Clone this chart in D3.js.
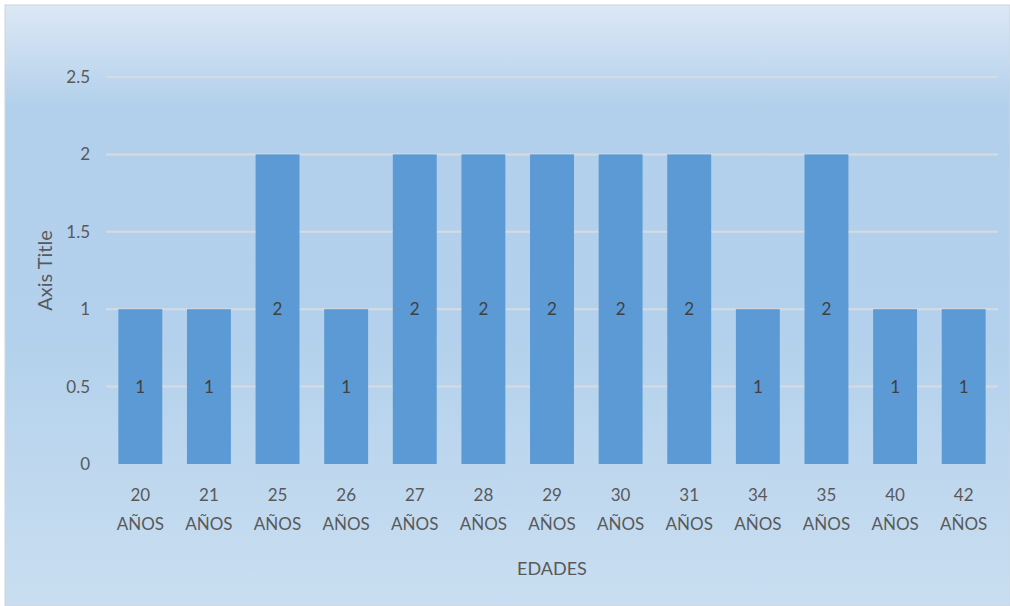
<!DOCTYPE html>
<html>
<head>
<meta charset="utf-8">
<script src="https://cdn.jsdelivr.net/npm/d3@7"></script>
<style>
  body { margin: 0; background: #fff; }
  text { font-family: Lato, "Noto Sans", sans-serif; }
</style>
</head>
<body>
<div id="chart"></div>
<script>
// data
var edades = ['20', '21', '25', '26', '27', '28', '29', '30', '31', '34', '35', '40', '42'];
var cantidades = [1, 1, 2, 1, 2, 2, 2, 2, 2, 1, 2, 1, 1];
var yTicks = [0, 0.5, 1, 1.5, 2, 2.5];

var width = 1010, height = 606;
var plotLeft = 106, plotRight = 998, plotTop = 77, plotBottom = 464;

var svg = d3.select('#chart').append('svg')
  .attr('width', width)
  .attr('height', height);

var defs = svg.append('defs');
var grad = defs.append('linearGradient')
  .attr('id', 'bg').attr('x1', 0).attr('y1', 0).attr('x2', 0).attr('y2', 1);
grad.append('stop').attr('offset', '0%').attr('stop-color', '#dce8f5');
grad.append('stop').attr('offset', '17%').attr('stop-color', '#b2d0eb');
grad.append('stop').attr('offset', '55%').attr('stop-color', '#b3d1ec');
grad.append('stop').attr('offset', '100%').attr('stop-color', '#c9def1');

svg.append('rect')
  .attr('x', 5).attr('y', 5)
  .attr('width', width - 5).attr('height', height - 5)
  .attr('fill', 'url(#bg)')
  .attr('stroke', '#d0d4d8').attr('stroke-width', 1);

var x = d3.scaleBand()
  .domain(edades)
  .range([plotLeft, plotRight])
  .paddingInner(0.36)
  .paddingOuter(0.18);

var y = d3.scaleLinear()
  .domain([0, 2.5])
  .range([plotBottom, plotTop]);

// gridlines
svg.append('g').selectAll('line')
  .data(yTicks.filter(function(d){ return d > 0; }))
  .enter().append('line')
  .attr('x1', plotLeft).attr('x2', plotRight)
  .attr('y1', function(d){ return y(d); })
  .attr('y2', function(d){ return y(d); })
  .attr('stroke', '#d6dbe0').attr('stroke-width', 2);

// y axis labels
var yAxis = svg.append('g')
  .attr('transform', 'translate(' + (plotLeft - 13) + ',0)')
  .call(d3.axisLeft(y).tickValues(yTicks).tickSize(0).tickFormat(function(d){ return d; }));
yAxis.select('.domain').remove();
yAxis.selectAll('text')
  .attr('fill', '#595959')
  .attr('font-size', 17)
  .attr('font-family', 'Lato, "Noto Sans", sans-serif');

// bars
svg.append('g').selectAll('rect')
  .data(cantidades)
  .enter().append('rect')
  .attr('x', function(d, i){ return x(edades[i]); })
  .attr('y', function(d){ return y(d); })
  .attr('width', x.bandwidth())
  .attr('height', function(d){ return y(0) - y(d); })
  .attr('fill', '#5b9ad5');

// data labels
svg.append('g').selectAll('text')
  .data(cantidades)
  .enter().append('text')
  .attr('x', function(d, i){ return x(edades[i]) + x.bandwidth() / 2; })
  .attr('y', function(d){ return y(d / 2); })
  .attr('dy', '0.35em')
  .attr('text-anchor', 'middle')
  .attr('font-size', 17)
  .attr('fill', '#404040')
  .text(function(d){ return d; });

// x labels, two lines
var xl = svg.append('g').selectAll('text')
  .data(edades)
  .enter().append('text')
  .attr('text-anchor', 'middle')
  .attr('font-size', 17)
  .attr('fill', '#595959');
xl.append('tspan')
  .attr('x', function(d){ return x(d) + x.bandwidth() / 2; })
  .attr('y', 501)
  .text(function(d){ return d; });
xl.append('tspan')
  .attr('x', function(d){ return x(d) + x.bandwidth() / 2; })
  .attr('y', 530)
  .text('AÑOS');

// axis titles
svg.append('text')
  .attr('x', (plotLeft + plotRight) / 2)
  .attr('y', 575)
  .attr('text-anchor', 'middle')
  .attr('font-size', 18)
  .attr('fill', '#595959')
  .text('EDADES');

svg.append('text')
  .attr('transform', 'translate(52,' + ((plotTop + plotBottom) / 2) + ') rotate(-90)')
  .attr('text-anchor', 'middle')
  .attr('font-size', 20)
  .attr('fill', '#595959')
  .text('Axis Title');
</script>
</body>
</html>
